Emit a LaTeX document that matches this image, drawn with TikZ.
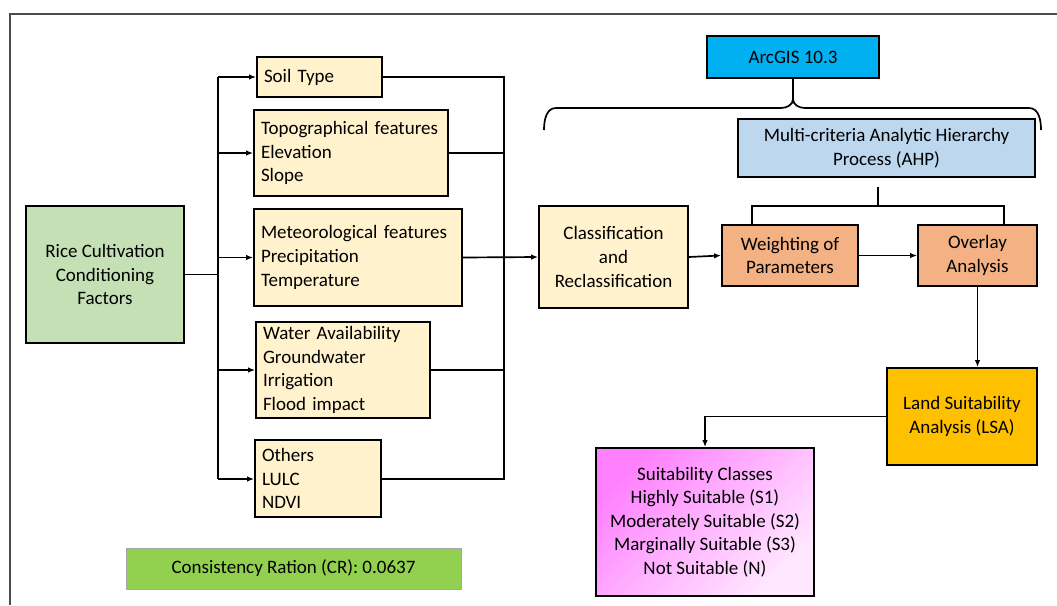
\documentclass[tikz,border=0pt]{standalone}
\usepackage{fontspec}
\setmainfont{Carlito}
\usetikzlibrary{arrows.meta,calc,positioning}
\definecolor{ricefill}{HTML}{C5E0B4}
\definecolor{factorfill}{HTML}{FFF2CC}
\definecolor{crfill}{HTML}{92D050}
\definecolor{arcfill}{HTML}{00B0F0}
\definecolor{ahpfill}{HTML}{BDD7EE}
\definecolor{stepfill}{HTML}{F4B183}
\definecolor{lsafill}{HTML}{FFC000}
\definecolor{suittop}{HTML}{FF80FF}
\definecolor{suitbot}{HTML}{FFE8FF}

\begin{document}
\begin{tikzpicture}
    [x=0.025cm, y=-0.025cm,
    font=\fontsize{13.5}{16.8}\selectfont,
    box/.style 2 args={
      rectangle,
      draw=black,
      line width=1.3pt,
      minimum width=#1*0.025cm,
      minimum height=#2*0.025cm,
      inner sep=1pt,
      align=center
    },
    factor/.style 2 args={
      box={#1}{#2},
      fill=factorfill,
      align=left,
      /utils/exec={\pgfmathsetlengthmacro\factorwd{(#1-14)*0.025cm}},
      text width=\factorwd
    },
    line/.style={
      draw,
      line width=1.2pt
    },
    arrow/.style={
      line,
      -{Latex[length=5pt,width=4pt]}
    }
  ]
    \useasboundingbox (0,0) rectangle (1057,605);
    \draw[gray!60!black, line width=0.8pt] (1057,14) -- (10,14) -- (10,605);

    \draw (105,274.5) node[box={158}{137}, fill=ricefill] (rice) {Rice Cultivation\\Conditioning\\Factors};
    \path (319.5,77) node[factor={125}{40}] (soil) {Soil Type}
          (351,153) node[factor={194}{86}] (topo) {Topographical features\\Elevation\\Slope}
          (358,257.5) node[factor={208}{97}] (met) {Meteorological features\\Precipitation\\Temperature}
          (343,370) node[factor={174}{96}] (water) {Water Availability\\Groundwater\\Irrigation\\Flood impact}
          (318,478.5) node[factor={126}{77}] (others) {Others\\LULC\\NDVI};
    \draw (293.5,568.5) node[box={335}{41}, fill=crfill, draw=gray!70, line width=0.6pt] (cr) {Consistency Ration (CR): 0.0637};

    \draw (793,57) node[box={172}{42}, fill=arcfill] (arcgis) {ArcGIS 10.3};
    \draw (886.5,148) node[box={297}{58}, fill=ahpfill] (ahp) {Multi-criteria Analytic Hierarchy\\Process (AHP)};
    \draw (613.5,257) node[box={149}{102}, fill=factorfill] (class) {Classification\\and\\Reclassification};
    \path (790,255.5) node[box={136}{61}, fill=stepfill] (weight) {Weighting of\\Parameters}
          (977.5,255.5) node[box={119}{61}, fill=stepfill] (overlay) {Overlay\\Analysis};
    \draw (962,416.5) node[box={150}{97}, fill=lsafill] (lsa) {Land Suitability\\Analysis (LSA)};
    \draw (705,522) node[box={218}{148}, top color=suittop, bottom color=suitbot, shading angle=45] (suit)
      {Suitability Classes\\Highly Suitable (S1)\\Moderately Suitable (S2)\\Marginally Suitable (S3)\\Not Suitable (N)};

    \coordinate (lt) at (218,77);
    \coordinate (lb) at (218,479);
    \coordinate (rt) at (504,77);
    \coordinate (rb) at (504,479);
    \draw[line] (rice.east) -- (rice.east -| lt);
    \draw[line] (lt) -- (lb);
    \draw[arrow] (lt) -- (soil.west);
    \draw[arrow] (topo.west -| lt) -- (topo.west);
    \draw[arrow] (met.west -| lt) -- (met.west);
    \draw[arrow] (water.west -| lt) -- (water.west);
    \draw[arrow] (lb) -- (lb -| others.west);
    \draw[line] (soil.east) -- (rt) -- (rb) -- (rb -| others.east);
    \draw[line] (topo.east) -- (topo.east -| rt);
    \draw[line] (water.east) -- (water.east -| rt);
    \draw[arrow] (met.east) -- (class.west);
    \draw[arrow] (class.east) -- (weight.west);
    \draw[arrow] (weight.east) -- (overlay.west);

    \draw[line] (544,130) to[out=90,in=180] (556,108) -- (781,108) to[out=0,in=-90] (793,99) coordinate (tip)
      to[out=-90,in=180] (805,108) -- (1029,108) to[out=0,in=90] (1041,130);
    \draw[line] (arcgis.south) -- (tip);

    \coordinate (ahpstub) at (878,187);
    \coordinate (fl) at (752,206);
    \coordinate (fr) at (1004,206);
    \draw[line] (ahpstub) -- (ahpstub |- fl);
    \draw[line] (fl |- weight.north) -- (fl) -- (fr) -- (fr |- overlay.north);
    \draw[arrow] (overlay.south) -- (overlay.south |- lsa.north);
    \draw[arrow] (lsa.west) -| (suit.north);
\end{tikzpicture}
\end{document}
